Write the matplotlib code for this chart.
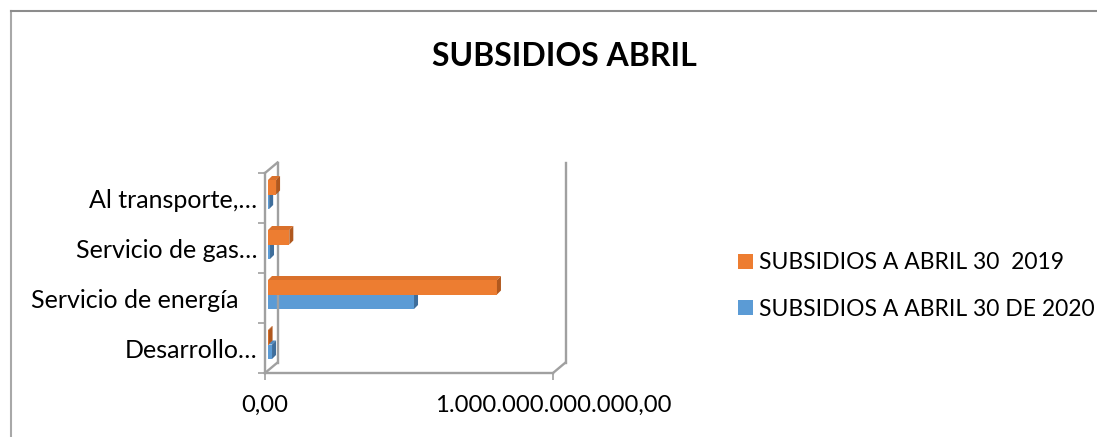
import matplotlib
matplotlib.use("Agg")
import matplotlib.pyplot as plt
import matplotlib.transforms as mtransforms
from matplotlib.lines import Line2D
from matplotlib.patches import Polygon

plt.rcParams['font.family'] = ['Lato', 'DejaVu Sans']

categories = ['Desarrollo…', 'Servicio de energía   ', 'Servicio de gas…', 'Al transporte,…']
subsidios_2019 = [0.002e12, 0.795e12, 0.074e12, 0.028e12]
subsidios_2020 = [0.014e12, 0.507e12, 0.007e12, 0.004e12]
series_labels = ['SUBSIDIOS A ABRIL 30  2019', 'SUBSIDIOS A ABRIL 30 DE 2020']
xtick_values = [0, 1e12]
xtick_labels = ['0,00', '1.000.000.000.000,00']

ORANGE, ORANGE_TOP, ORANGE_SIDE = '#ED7D31', '#D9702B', '#B0581E'
BLUE, BLUE_TOP, BLUE_SIDE = '#5B9BD5', '#4F88BE', '#3F6E9B'
GREY = '#A0A0A0'

W, H = 1097, 437
fig = plt.figure(figsize=(W / 100, H / 100), dpi=100)

# front plane of the 3d box, in pixels
left, right, top, bottom = 265, 553, 173, 373
ax = fig.add_axes([left / W, 1 - bottom / H, (right - left) / W, (bottom - top) / H])
ax.set_xlim(0, 1e12)
ax.set_ylim(-0.5, len(categories) - 0.5)

# bars sit a little behind the front plane
bar_shift = mtransforms.ScaledTranslation(3 / 100, 3.5 / 100, fig.dpi_scale_trans)
bar_trans = ax.transData + bar_shift

h = 0.29
ys = list(range(len(categories)))
px_x = 1e12 / (right - left)
px_y = len(categories) / (bottom - top)
dx, dy = 4 * px_x, 4 * px_y


def draw_series(values, offset, front, top_c, side_c, label, z):
    yc = [y + offset for y in ys]
    bars = ax.barh(yc, values, height=h, color=front, label=label,
                   transform=bar_trans, zorder=z, clip_on=False)
    for y, v in zip(yc, values):
        y0, y1 = y - h / 2, y + h / 2
        ax.add_patch(Polygon([(0, y1), (v, y1), (v + dx, y1 + dy), (dx, y1 + dy)],
                             closed=True, color=top_c, transform=bar_trans,
                             zorder=z, clip_on=False, lw=0))
        ax.add_patch(Polygon([(v, y0), (v + dx, y0 + dy), (v + dx, y1 + dy), (v, y1)],
                             closed=True, color=side_c, transform=bar_trans,
                             zorder=z, clip_on=False, lw=0))
    return bars


b2020 = draw_series(subsidios_2020, -h / 2, BLUE, BLUE_TOP, BLUE_SIDE, series_labels[1], 2)
b2019 = draw_series(subsidios_2019, h / 2, ORANGE, ORANGE_TOP, ORANGE_SIDE, series_labels[0], 3)

# axes / walls
for s in ['top', 'right']:
    ax.spines[s].set_visible(False)
for s in ['left', 'bottom']:
    ax.spines[s].set_color(GREY)
    ax.spines[s].set_linewidth(1.7)

depth = mtransforms.ScaledTranslation(12.5 / 100, 10.5 / 100, fig.dpi_scale_trans)
back = ax.transAxes + depth
lw = 1.7
ax.add_line(Line2D([0, 0], [0, 1], transform=back, color=GREY, lw=lw, clip_on=False))
ax.add_line(Line2D([1, 1], [0, 1], transform=back, color=GREY, lw=lw, clip_on=False))
for (x, y) in [(0, 0), (0, 1), (1, 0)]:
    p0 = ax.transAxes.transform((x, y))
    p1 = back.transform((x, y))
    fig.add_artist(Line2D([p0[0], p1[0]], [p0[1], p1[1]], transform=None,
                          color=GREY, lw=lw))

ax.set_yticks(ys)
ax.set_yticklabels(categories, fontsize=18)
ax.set_yticks([y - 0.5 for y in ys] + [len(ys) - 0.5], minor=True)
ax.tick_params(axis='y', which='major', length=0, pad=5.5)
ax.tick_params(axis='y', which='minor', length=5, width=1.2, color=GREY)
ax.set_xticks(xtick_values)
ax.set_xticklabels(xtick_labels, fontsize=17.2)
ax.tick_params(axis='x', length=5, width=1.2, color=GREY, pad=11)

fig.text(564 / W, 1 - 56 / H, 'SUBSIDIOS ABRIL', ha='center', va='center',
         fontsize=23, fontweight='bold')

fig.legend(handles=[b2019, b2020], labels=series_labels, loc='center left',
           bbox_to_anchor=(738 / W, 1 - 286 / H), frameon=False, fontsize=16.5,
           handlelength=0.65, handleheight=0.65, handletextpad=0.28,
           labelspacing=1.1, borderpad=0, borderaxespad=0)

# chart border
fig.add_artist(Line2D([11 / W, 11 / W], [0, 1 - 11 / H], color='#A8A8A8', lw=1.5))
fig.add_artist(Line2D([11 / W, 1], [1 - 11 / H, 1 - 11 / H], color='#8C8C8C', lw=1.5))

fig.savefig('out.png', dpi=100)
